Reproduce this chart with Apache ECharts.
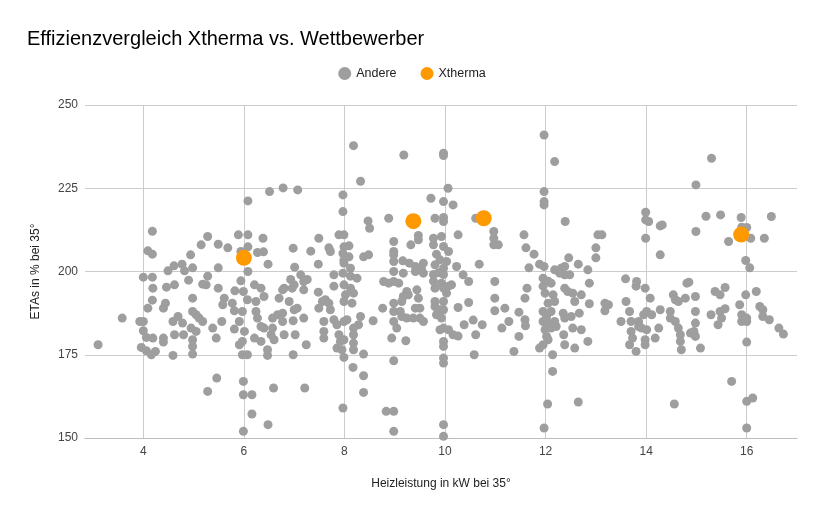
<!DOCTYPE html>
<html>
<head>
<meta charset="utf-8">
<script src="https://cdn.jsdelivr.net/npm/echarts@6/dist/echarts.min.js"></script>
<style>
  html, body { margin: 0; padding: 0; background: #fff; }
  #chart { width: 824px; height: 516px; }
</style>
</head>
<body>
<div id="chart"></div>
<script>
// Heizleistung (kW) / ETAs (%) pairs
const andereData = [
  [6.08,221.2],[4.18,212.1],[4.09,206.2],[4.18,205.2],[5.28,210.5],[5.15,208],[5.49,208.2],[5.68,207.1],[4.94,205],[5.89,211],
  [6.08,211],[6.08,207.4],[5.94,206],[4.61,201.7],[4.77,202.2],[4.98,201.1],[5.49,201.1],[4.49,200.2],[4.82,200.2],[6.08,200],
  [3.10,178],[3.58,186],[4.0,198.3],[4.18,198.3],[4.19,195],[4.90,197.4],[4.46,195.3],[4.62,196],[4.18,191.4],[4.44,190.5],
  [4.40,189],[4.09,189],[4.98,192],[5.28,198.6],[5.25,196],[5.18,196.2],[5.49,195],[5.61,192],[5.58,190],[5.82,194.2],
  [5.99,194],[5.94,197.2],[5.77,190.5],[5.81,188.2],[5.97,188],[6.07,191.5],[3.93,185],[4.0,185],[4.0,182.2],[4.06,180.2],
  [4.19,180],[3.96,177.2],[4.06,176.2],[4.16,175],[4.24,176],[4.40,180],[4.40,178.8],[4.59,174.8],[4.59,185],[4.69,186.5],
  [4.78,184.5],[4.62,181],[4.80,181],[4.98,188],[5.05,187],[5.11,186],[5.18,185],[4.95,183],[5.05,182],[4.98,179.5],
  [4.98,177.5],[4.98,175.2],[5.38,183],[5.56,185],[5.45,180],[5.81,182.7],[5.91,185],[6.01,182],[5.97,179],[5.91,178],
  [5.97,175],[6.07,175],[5.46,168],[5.28,164],[5.99,167],[5.99,163],[6.16,163],[6.16,157.2],[5.99,152],
  [8.18,237.8],[9.18,235],[8.32,227.1],[6.51,224],[6.78,225.1],[7.07,224.5],[7.97,223],[7.97,218],[8.47,215.2],[8.50,213],
  [8.88,216],[6.38,210],[7.49,210],[7.89,211],[7.99,211],[6.98,207],[7.69,207.1],[7.72,206],[7.33,206.1],[6.27,205.7],
  [6.39,205.9],[7.99,207.4],[8.09,207.7],[7.97,205.4],[8.09,204.4],[7.99,203.4],[8.98,209],[8.98,206],[8.98,205],[9.32,208],
  [9.47,210.8],[9.47,209.5],[8.38,204.4],[8.48,205],[8.98,203],[9.16,203.2],[9.29,202.5],[9.41,201.5],[6.48,202.2],[7.01,201.3],
  [7.48,202.2],[7.99,202.5],[8.12,201],[9.53,201],[9.57,202.5],
  [6.21,196],[6.34,195],[6.40,192.5],[6.24,191],[6.24,188],[6.27,186],[6.34,183.5],[6.40,183],[6.21,180],[6.34,179],
  [6.47,176.5],[6.47,174.8],[6.57,186],[6.67,187],[6.77,187.5],[6.77,185],[6.57,183],[6.54,181],[6.60,179.5],[6.70,192],
  [6.77,194.5],[6.80,195],[6.90,191],[6.80,181],[6.93,197.6],[7.0,196],[6.96,195],[7.0,188.5],[7.06,189],[6.98,185.2],
  [7.02,181],[6.98,175],[7.13,199],[7.19,197],[7.26,197.6],[7.19,194.5],[7.19,186],[7.24,178],[7.48,193.8],[7.49,189],
  [7.56,191],[7.62,191.5],[7.69,190.5],[7.72,188.5],[7.79,199],[7.59,185],[7.59,182],[7.59,180],[7.79,195.6],[7.79,185.5],
  [7.85,184],[7.99,185],[8.05,185.5],[7.89,181],[7.92,179],[7.99,179.5],[7.85,177],[7.95,176.5],[7.99,174.2],[7.97,199.5],
  [8.12,198.6],[8.25,198],[7.99,196],[8.12,195],[8.02,193],[8.18,193.5],[7.99,191],[8.15,190.5],[8.18,183],[8.18,181],
  [8.18,178.5],[8.18,176.5],[8.28,184],[8.32,186.5],[8.38,175.2],[8.17,171.2],[8.38,168.7],[8.38,163.7],[7.97,159],[8.57,185.2],
  [8.76,189],[8.78,197],[8.88,196.5],[8.98,200],[9.17,199.5],[8.98,197],[9.08,196.5],[8.98,190.5],[8.98,188],[8.98,185],
  [9.04,183],[8.94,180],[9.14,191],[9.17,192.5],[9.24,194],[9.27,193],[9.44,194.5],[9.47,192],[9.41,189],[9.50,189],
  [9.37,186],[9.50,186],[9.57,185],[9.24,186],[9.14,186.5],[9.11,188],[9.41,200],[9.57,199.5],[9.22,179.2],[8.98,173.2],
  [8.83,158],[8.98,158],[8.98,152],[6.59,165],[7.21,165],[6.48,154],
  [9.97,235.5],[9.97,234.8],[11.97,241],[12.18,233],[10.06,225],[9.72,222],[9.97,221],[10.16,220],[11.97,224],[11.97,221],
  [11.97,220],[9.80,216],[9.97,216.2],[9.97,215],[10.61,216],[12.39,215],[10.26,211],[10.97,212],[10.97,210],[11.06,208],
  [10.97,208],[11.57,211],[9.77,210],[9.77,208],[9.93,210.5],[9.97,207.5],[10.07,206],[9.83,205.2],[9.90,203.5],[10.03,203],
  [9.80,202],[9.97,201],[10.23,201.5],[10.68,202.2],[11.61,207.1],[11.77,205.2],[11.67,201.1],[11.88,202.2],[11.97,201.5],[12.46,204.1],
  [12.65,202.2],[12.18,200.5],[12.31,201],[12.38,201.5],[13.0,207.1],[13.0,204.1],[13.04,211],[12.84,200.5],
  [9.77,199.1],[9.87,199.6],[9.97,199.1],[9.77,197.1],[9.93,196.5],[9.80,195],[9.97,195],[10.07,195.6],[10.03,193.5],[9.97,191],
  [9.80,191],[9.80,189.5],[9.90,188.5],[9.97,188.5],[9.83,187],[9.93,186],[9.97,183],[9.90,182.5],[10.07,182.5],[9.97,179],
  [9.97,177.5],[9.97,174],[9.97,172.5],[9.97,154],[9.97,150.5],
  [10.13,196],[10.36,199],[10.47,197],[10.26,189.2],[10.47,190.7],[10.38,184],[10.56,185.4],[10.74,184],[10.16,181],[10.26,180.6],
  [10.61,181],[10.58,175],[10.99,197],[10.99,192],[10.99,188.2],[11.19,189],[11.27,185],[11.13,183],[11.47,187.8],[11.59,192],
  [11.63,195],[11.59,185.5],[11.60,183.7],[11.47,180.5],[11.37,176],
  [11.95,198],[11.95,195.6],[12.05,197.1],[12.11,196.5],[11.99,193.5],[12.15,193],[12.18,191],[12.05,190.5],[11.95,188],[12.02,186.5],
  [12.11,188],[11.95,185],[12.05,184.5],[12.18,185],[11.99,182.5],[12.11,183],[12.21,183.5],[12.02,180.5],[12.05,179.5],[11.95,178],
  [11.88,177],[12.28,199.5],[12.38,199],[12.48,199],
  [12.14,175],[12.14,170],[12.04,160.2],[11.97,153],[12.65,160.8],[12.38,195],[12.44,194],[12.54,193.5],[12.58,191],[12.71,193],
  [12.87,196.5],[12.87,190.3],[12.35,187.5],[12.38,186],[12.51,186.5],[12.67,187.5],[12.54,183],[12.71,182.5],[12.36,181],[12.38,178],
  [12.58,177],[12.84,179],
  [15.30,234],[14.99,226],[13.99,217.8],[13.99,215.5],[14.05,215],[14.28,213.7],[14.32,214],[13.12,211],[13.99,210],[14.28,205],
  [14.99,212],[15.19,216.6],[15.48,217],[15.89,216.2],[16.49,216.5],[15.90,213.3],[16.0,213.2],[16.08,210],[16.35,210],[15.64,209],
  [15.98,203.3],[16.06,201.1],
  [13.18,190.5],[13.25,190],[13.18,188.2],[13.59,197.8],[13.81,197],[13.80,195.6],[13.98,195],[14.08,192],[13.60,191],[13.67,188],
  [13.50,185],[13.70,185],[13.70,182],[13.73,180],[13.67,178],[13.80,176],[13.85,185],[13.95,187],[14.01,188],[14.11,187],
  [13.91,183],[14.01,182.5],[13.85,183.5],[13.98,179.5],[13.98,178],[14.18,180],[14.28,188.5],[14.25,183],[14.54,193],[14.64,191],
  [14.58,191.5],[14.78,192],[14.81,196.5],[14.85,196.8],[14.98,192.5],[14.48,188],[14.48,186],[14.58,185],[14.64,183],[14.68,181],
  [14.68,179],[14.70,176.5],[14.98,188],[14.98,184.5],[14.95,182],[14.88,181.5],[14.98,180.5],[15.08,177],[14.56,160.2],[15.37,194],
  [15.57,195.2],[15.47,193],[15.29,187],[15.47,188],[15.57,188.8],[15.50,186],[15.43,184],[15.86,190],[15.98,193],[16.19,194],
  [15.90,187],[15.90,185],[16.0,186],[16.0,185],[16.26,189.5],[16.32,188.5],[16.32,186.5],[16.45,185.5],[16.64,183],[16.73,181.2],
  [16.0,178.8],[15.70,167],[16.0,161],[16.12,162],[16.0,153]
];

const xthermaData = [
  [6.0,204.1],[9.37,215.1],[10.77,216],[15.89,211.1]
];

const seriesNames = ['Andere', 'Xtherma'];
const seriesColors = ['#9e9e9e', '#ff9900'];

const titleText = 'Effizienzvergleich Xtherma vs. Wettbewerber';
const xName = 'Heizleistung in kW bei 35°';
const yName = 'ETAs in % bei 35°';

const font = '"Liberation Sans", Arial, sans-serif';

const chart = echarts.init(document.getElementById('chart'));

const option = {
  backgroundColor: '#ffffff',
  animation: false,
  textStyle: { fontFamily: font },
  title: {
    text: titleText,
    left: 22,
    top: 24,
    textStyle: { fontFamily: font, fontSize: 20, fontWeight: 'normal', color: '#000' }
  },
  legend: {
    data: seriesNames,
    top: 62,
    left: 'center',
    icon: 'circle',
    itemWidth: 13,
    itemHeight: 13,
    itemGap: 24,
    textStyle: { fontFamily: font, fontSize: 12.5, color: '#222' }
  },
  grid: { left: 85, right: 27, top: 105, bottom: 78 },
  xAxis: {
    type: 'value',
    min: 2.84,
    max: 17,
    splitNumber: 7,
    name: xName,
    nameLocation: 'middle',
    nameGap: 40,
    nameTextStyle: { fontFamily: font, fontSize: 12, color: '#222' },
    axisLine: { show: true, lineStyle: { color: '#bdbdbd' } },
    axisTick: { show: false },
    axisLabel: { margin: 8, fontSize: 12, color: '#444', showMinLabel: false, showMaxLabel: false },
    splitLine: { show: true, showMinLine: false, showMaxLine: false, lineStyle: { color: '#cccccc' } }
  },
  yAxis: {
    type: 'value',
    min: 150,
    max: 250,
    interval: 25,
    name: yName,
    nameLocation: 'middle',
    nameGap: 43,
    nameTextStyle: { fontFamily: font, fontSize: 12, color: '#222' },
    axisLine: { show: false },
    axisTick: { show: false },
    axisLabel: { margin: 7, fontSize: 12, color: '#444' },
    splitLine: { show: true, lineStyle: { color: '#cccccc' } }
  },
  series: [
    {
      name: seriesNames[0],
      type: 'scatter',
      data: andereData,
      symbolSize: 9,
      itemStyle: { color: seriesColors[0], opacity: 1 }
    },
    {
      name: seriesNames[1],
      type: 'scatter',
      data: xthermaData,
      symbolSize: 16,
      z: 3,
      itemStyle: { color: seriesColors[1], opacity: 1 }
    }
  ]
};

chart.setOption(option);
</script>
</body>
</html>
